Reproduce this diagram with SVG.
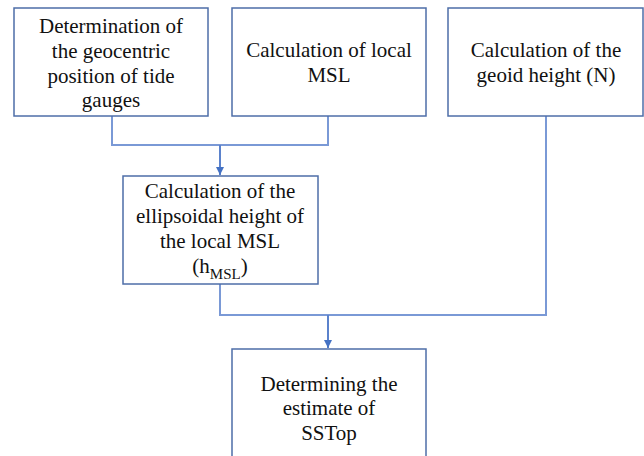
<svg xmlns="http://www.w3.org/2000/svg" width="644" height="456" viewBox="0 0 644 456">
<defs>
<marker id="arr" viewBox="0 0 10 10" refX="10" refY="5" markerWidth="4" markerHeight="4" orient="auto" markerUnits="strokeWidth">
<path d="M0,0 L10,5 L0,10 z" fill="#4472c4"/>
</marker>
<style>
.box{fill:#ffffff;stroke:#4e6ea8;stroke-width:1.5}
.t{font-family:"Times New Roman","Liberation Serif",Times,serif;font-size:21px;fill:#111;text-anchor:middle}
.c{fill:none;stroke:#7a99d6;stroke-width:2}
.ca{fill:none;stroke:#5b82cc;stroke-width:2}
</style>
</defs>
<rect width="644" height="456" fill="#ffffff"/>
<g id="connectors">
<polyline class="c" points="112,116 112,145 328,145 328,116"/>
<line class="ca" x1="220" y1="145" x2="220" y2="175" marker-end="url(#arr)"/>
<polyline class="c" points="220,284 220,315 546,315 546,116"/>
<line class="ca" x1="328" y1="315" x2="328" y2="348" marker-end="url(#arr)"/>
</g>
<g id="n1">
<rect class="box" x="14" y="8" width="194" height="108"/>
<text class="t" x="111" y="33">Determination of</text>
<text class="t" x="111" y="58">the geocentric</text>
<text class="t" x="111" y="83">position of tide</text>
<text class="t" x="111" y="107">gauges</text>
</g>
<g id="n2">
<rect class="box" x="232" y="8" width="194" height="108"/>
<text class="t" x="329" y="57">Calculation of local</text>
<text class="t" x="329" y="82">MSL</text>
</g>
<g id="n3">
<rect class="box" x="448" y="8" width="195" height="108"/>
<text class="t" x="546" y="57">Calculation of the</text>
<text class="t" x="546" y="82">geoid height (N)</text>
</g>
<g id="n4">
<rect class="box" x="123" y="176" width="195" height="108"/>
<text class="t" x="220" y="198">Calculation of the</text>
<text class="t" x="220" y="223">ellipsoidal height of</text>
<text class="t" x="220" y="248">the local MSL</text>
<text class="t" x="220" y="273">(h<tspan font-size="15" dy="6">MSL</tspan><tspan dy="-6">)</tspan></text>
</g>
<g id="n5">
<rect class="box" x="232" y="349" width="194" height="112"/>
<text class="t" x="329" y="391">Determining the</text>
<text class="t" x="329" y="415">estimate of</text>
<text class="t" x="329" y="440">SSTop</text>
</g>
</svg>
